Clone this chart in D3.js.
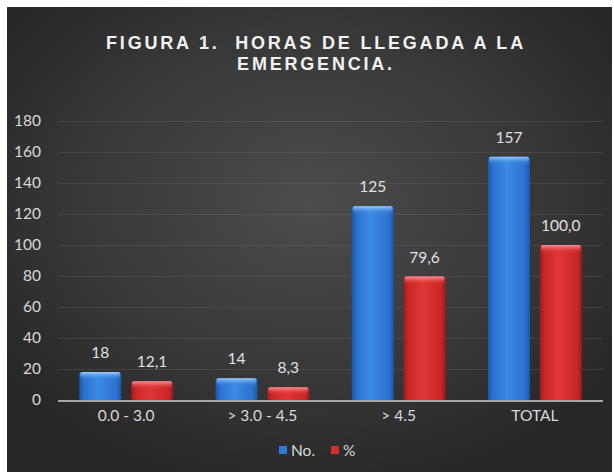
<!DOCTYPE html>
<html>
<head>
<meta charset="utf-8">
<script src="https://cdn.jsdelivr.net/npm/d3@7"></script>
<style>
  html, body { margin: 0; padding: 0; background: #fff; }
  svg { display: block; }
  .tick-label { fill: #d9d9d9; font-family: Lato, "Open Sans", sans-serif; font-size: 15.5px; }
  .value-label { fill: #e0e0e0; font-family: Lato, "Open Sans", sans-serif; font-size: 15.5px; text-anchor: middle; }
  .title { fill: #f2f2f2; font-family: "Liberation Sans", Arial, sans-serif; font-size: 18px; font-weight: bold; letter-spacing: 2.8px; text-anchor: middle; white-space: pre; }
</style>
</head>
<body>
<div id="chart"></div>
<script>
const categories = ["0.0 - 3.0", "> 3.0 - 4.5", "> 4.5", "TOTAL"];
const series = ["No.", "%"];
const countValues = [18, 14, 125, 157];
const percentValues = [12.1, 8.3, 79.6, 100.0];
const countLabels = ["18", "14", "125", "157"];
const percentLabels = ["12,1", "8,3", "79,6", "100,0"];
const yTicks = [0, 20, 40, 60, 80, 100, 120, 140, 160, 180];
const titleLines = ["FIGURA 1.  HORAS DE LLEGADA A LA", "EMERGENCIA."];

const width = 614;
const height = 472;
const plot = { left: 58, right: 603, top: 121, bottom: 400 };

const svg = d3
  .select("#chart")
  .append("svg")
  .attr("width", width)
  .attr("height", height);

const defs = svg.append("defs");

// background glow
const bg = defs
  .append("radialGradient")
  .attr("id", "bg-grad")
  .attr("cx", "50%")
  .attr("cy", "42%")
  .attr("r", "62%");
bg.append("stop").attr("offset", "0%").attr("stop-color", "#4c4c4c");
bg.append("stop").attr("offset", "60%").attr("stop-color", "#383838");
bg.append("stop").attr("offset", "100%").attr("stop-color", "#272727");

// cylinder-ish bar fills
function barGradient(id, edge, mid, light) {
  const g = defs
    .append("linearGradient")
    .attr("id", id)
    .attr("x1", "0%")
    .attr("x2", "100%")
    .attr("y1", "0%")
    .attr("y2", "0%");
  g.append("stop").attr("offset", "0%").attr("stop-color", edge);
  g.append("stop").attr("offset", "12%").attr("stop-color", mid);
  g.append("stop").attr("offset", "45%").attr("stop-color", light);
  g.append("stop").attr("offset", "88%").attr("stop-color", mid);
  g.append("stop").attr("offset", "100%").attr("stop-color", edge);
}
barGradient("grad-blue", "#1c56a8", "#2c72d0", "#3c8ae4");
barGradient("grad-red", "#9e1a1a", "#cb2727", "#e03636");

function topGradient(id, light, base) {
  const g = defs
    .append("linearGradient")
    .attr("id", id)
    .attr("x1", "0%")
    .attr("x2", "0%")
    .attr("y1", "0%")
    .attr("y2", "100%");
  g.append("stop").attr("offset", "0%").attr("stop-color", light).attr("stop-opacity", 0.95);
  g.append("stop").attr("offset", "100%").attr("stop-color", base).attr("stop-opacity", 0);
}
topGradient("top-blue", "#9fd0ff", "#3a86e0");
topGradient("top-red", "#ff9a9a", "#de3434");

const colors = { "No.": "url(#grad-blue)", "%": "url(#grad-red)" };
const tops = { "No.": "url(#top-blue)", "%": "url(#top-red)" };
const legendColors = { "No.": "#2f78d8", "%": "#d42b2b" };

svg
  .append("rect")
  .attr("x", 7)
  .attr("y", 7)
  .attr("width", 605)
  .attr("height", height - 7)
  .attr("fill", "url(#bg-grad)");

// title
svg
  .append("g")
  .selectAll("text")
  .data(titleLines)
  .enter()
  .append("text")
  .attr("class", "title")
  .attr("x", 316)
  .attr("y", (d, i) => 49 + i * 21)
  .text((d) => d);

const y = d3.scaleLinear().domain([0, 180]).range([plot.bottom, plot.top]);

const x0 = d3
  .scaleBand()
  .domain(categories)
  .range([plot.left, plot.right])
  .padding(0);

const x1 = d3
  .scaleBand()
  .domain(series)
  .range([0, x0.bandwidth()])
  .paddingInner(0.19)
  .paddingOuter(0.41);

// gridlines
svg
  .append("g")
  .selectAll("line")
  .data(yTicks.filter((d) => d > 0))
  .enter()
  .append("line")
  .attr("x1", plot.left)
  .attr("x2", plot.right)
  .attr("y1", (d) => y(d) + 0.5)
  .attr("y2", (d) => y(d) + 0.5)
  .attr("stroke", "#5a5a5a")
  .attr("stroke-opacity", 0.45)
  .attr("stroke-width", 1);

// y axis labels
const yAxis = svg
  .append("g")
  .attr("transform", `translate(${plot.left - 17},0)`)
  .call(d3.axisLeft(y).tickValues(yTicks).tickSize(0).tickPadding(0));
yAxis.select(".domain").remove();
yAxis
  .selectAll("text")
  .attr("class", "tick-label")
  .attr("font-family", null)
  .attr("font-size", null)
  .attr("fill", null);

// bars
const rows = categories.map((c, i) => ({
  category: c,
  values: [
    { key: "No.", value: countValues[i], label: countLabels[i] },
    { key: "%", value: percentValues[i], label: percentLabels[i] },
  ],
}));

const groups = svg
  .append("g")
  .selectAll("g")
  .data(rows)
  .enter()
  .append("g")
  .attr("transform", (d) => `translate(${x0(d.category)},0)`);

const bars = groups
  .selectAll("g")
  .data((d) => d.values)
  .enter()
  .append("g");

bars
  .append("rect")
  .attr("x", (d) => x1(d.key))
  .attr("y", (d) => y(d.value))
  .attr("width", x1.bandwidth())
  .attr("height", (d) => y(0) - y(d.value))
  .attr("rx", 2)
  .attr("fill", (d) => colors[d.key]);

bars
  .append("rect")
  .attr("x", (d) => x1(d.key) + 1)
  .attr("y", (d) => y(d.value))
  .attr("width", x1.bandwidth() - 2)
  .attr("height", (d) => Math.min(8, y(0) - y(d.value)))
  .attr("rx", 2)
  .attr("fill", (d) => tops[d.key]);

bars
  .append("text")
  .attr("class", "value-label")
  .attr("x", (d) => x1(d.key) + x1.bandwidth() / 2)
  .attr("y", (d) => y(d.value) - 14)
  .text((d) => d.label);

// baseline
svg
  .append("line")
  .attr("x1", plot.left)
  .attr("x2", plot.right)
  .attr("y1", plot.bottom + 1)
  .attr("y2", plot.bottom + 1)
  .attr("stroke", "#a6a6a6")
  .attr("stroke-width", 2);

// category labels
const xAxis = svg
  .append("g")
  .attr("transform", `translate(0,${plot.bottom + 10})`)
  .call(d3.axisBottom(x0).tickSize(0).tickPadding(0));
xAxis.select(".domain").remove();
xAxis
  .selectAll("text")
  .attr("class", "tick-label")
  .attr("font-family", null)
  .attr("font-size", null)
  .attr("fill", null);

// legend
const legend = svg
  .append("g")
  .selectAll("g")
  .data(series)
  .enter()
  .append("g")
  .attr("transform", (d, i) => `translate(${279 + i * 52},446)`);

legend
  .append("rect")
  .attr("width", 8)
  .attr("height", 8)
  .attr("fill", (d) => legendColors[d]);

legend
  .append("text")
  .attr("class", "tick-label")
  .attr("x", 12)
  .attr("y", 10)
  .text((d) => d);
</script>
</body>
</html>
